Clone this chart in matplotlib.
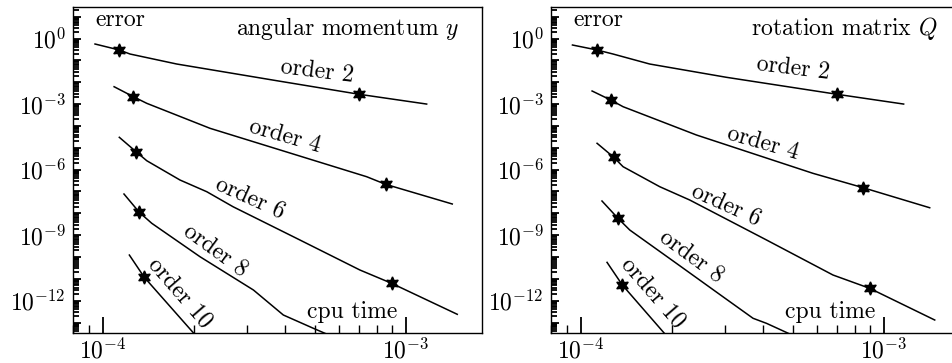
import math
import matplotlib
matplotlib.use("Agg")
import matplotlib.pyplot as plt
from matplotlib.ticker import FixedLocator, FuncFormatter, LogLocator, NullFormatter

plt.rcParams["font.family"] = "serif"
plt.rcParams["font.serif"] = ["cmr10"]
plt.rcParams["mathtext.fontset"] = "cm"
plt.rcParams["axes.formatter.use_mathtext"] = True

# ---- data: cpu time (s) vs error ----
orders = [2, 4, 6, 8, 10]

# angular momentum y
y_t2 = [9.43e-5, 1.134e-4, 1.23e-4, 1.754e-4, 3.75e-4, 7.01e-4, 1.17e-3]
y_e2 = [0.56, 0.298, 0.195, 6.8e-2, 1.17e-2, 2.8e-3, 1.0e-3]
y_t4 = [1.09e-4, 1.262e-4, 1.397e-4, 2.258e-4, 7.42e-4, 8.57e-4, 1.421e-3]
y_e4 = [6.22e-3, 2.17e-3, 1.08e-3, 7.77e-5, 4.73e-7, 2.12e-7, 2.67e-8]
y_t6 = [1.134e-4, 1.288e-4, 1.397e-4, 1.798e-4, 2.203e-4, 2.69e-4, 4.47e-4, 7.05e-4, 8.97e-4, 1.476e-3]
y_e6 = [3.01e-5, 6.59e-6, 2.55e-6, 3.34e-7, 9.74e-8, 2.0e-8, 6.0e-10, 2.54e-11, 6.25e-12, 2.39e-13]
y_t8 = [1.175e-4, 1.32e-4, 1.451e-4, 2.093e-4, 3.14e-4, 3.94e-4, 4.95e-4, 6.29e-4]
y_e8 = [7.64e-8, 1.11e-8, 3.49e-9, 1.03e-10, 3.09e-12, 2.22e-13, 5.46e-14, 1.3e-14]
y_t10 = [1.224e-4, 1.371e-4, 2.175e-4]
y_e10 = [1.23e-10, 1.18e-11, 8.4e-15]
y_stars = [[1, 5], [1, 5], [1, 8], [1], [1]]

# rotation matrix Q
q_t2 = [9.39e-5, 1.132e-4, 1.278e-4, 1.688e-4, 3.02e-4, 7.0e-4, 1.161e-3]
q_e2 = [0.504, 0.298, 0.195, 6.8e-2, 1.68e-2, 2.8e-3, 1.0e-3]
q_t4 = [1.09e-4, 1.256e-4, 1.379e-4, 2.407e-4, 5.83e-4, 8.53e-4, 1.415e-3]
q_e4 = [3.96e-3, 1.53e-3, 7.57e-4, 3.84e-5, 6.77e-7, 1.49e-7, 1.8e-8]
q_t6 = [1.132e-4, 1.285e-4, 1.379e-4, 1.822e-4, 2.288e-4, 4.1e-4, 6.79e-4, 8.97e-4, 1.47e-3]
q_e6 = [1.6e-5, 3.66e-6, 1.36e-6, 1.65e-7, 4.06e-8, 6.0e-10, 1.5e-11, 3.7e-12, 1.31e-13]
q_t8 = [1.175e-4, 1.327e-4, 1.451e-4, 2.067e-4, 2.944e-4, 3.7e-4, 4.1e-4, 5.69e-4]
q_e8 = [3.66e-8, 5.9e-9, 1.72e-9, 5.15e-11, 1.52e-12, 1.57e-13, 9.2e-14, 1.15e-14]
q_t10 = [1.221e-4, 1.372e-4, 2.04e-4]
q_e10 = [5.7e-11, 5.2e-12, 9.3e-15]
q_stars = [[1, 5], [1, 5], [1, 7], [1], [1]]

# curve labels: position (time, error) and rotation
y_lab_t = [5.08e-4, 3.99e-4, 3.06e-4, 2.35e-4, 1.8e-4]
y_lab_e = [3.03e-2, 3.2e-5, 4.86e-8, 2.09e-10, 2.18e-12]
q_lab_t = [5.01e-4, 3.98e-4, 3.02e-4, 2.32e-4, 1.73e-4]
q_lab_e = [4.33e-2, 1.6e-5, 2.4e-8, 1.03e-10, 2.18e-12]
lab_rot = [-7, -16, -24, -36, -49]

panels = [
    ("angular momentum $y$", [y_t2, y_t4, y_t6, y_t8, y_t10],
     [y_e2, y_e4, y_e6, y_e8, y_e10], y_stars, y_lab_t, y_lab_e),
    ("rotation matrix $Q$", [q_t2, q_t4, q_t6, q_t8, q_t10],
     [q_e2, q_e4, q_e6, q_e8, q_e10], q_stars, q_lab_t, q_lab_e),
]

FS = 17
W, H = 953, 363
fig = plt.figure(figsize=(W / 100, H / 100), dpi=100)
lefts = [72.7, 550.7]


def pow_label(v, pos):
    return r"$10^{%d}$" % round(math.log10(v))


def ylabel_fmt(v, pos):
    e = int(round(math.log10(v)))
    return r"$10^{%d}$" % e if e % 3 == 0 else ""


for left, (title, ts, es, stars, lt, le) in zip(lefts, panels):
    ax = fig.add_axes([left / W, 1 - 332.7 / H, 409 / W, 325.4 / H])
    for t, e, st in zip(ts, es, stars):
        ax.plot(t, e, color="black", lw=1.1, marker=(6, 1, 0), ms=9.5,
                markevery=st, mfc="black", mec="black")
    for o, x, y, r in zip(orders, lt, le, lab_rot):
        ax.text(x, y, "order %d" % o, fontsize=FS, rotation=r,
                rotation_mode="anchor", ha="center", va="center")
    ax.set_xscale("log")
    ax.set_yscale("log")
    ax.set_xlim(7.96e-5, 1.777e-3)
    ax.set_ylim(3.44e-14, 26.8)

    ax.yaxis.set_major_locator(FixedLocator([10.0 ** k for k in range(-13, 2)]))
    ax.yaxis.set_major_formatter(FuncFormatter(ylabel_fmt))
    ax.yaxis.set_minor_locator(LogLocator(base=10, subs=range(2, 10), numticks=40))
    ax.yaxis.set_minor_formatter(NullFormatter())
    ax.xaxis.set_major_locator(FixedLocator([1e-4, 1e-3]))
    ax.xaxis.set_major_formatter(FuncFormatter(pow_label))
    ax.xaxis.set_minor_locator(LogLocator(base=10, subs=range(2, 10), numticks=20))
    ax.xaxis.set_minor_formatter(NullFormatter())

    ax.tick_params(which="both", direction="in", top=False, right=False,
                   labelsize=FS, width=1.3)
    ax.tick_params(axis="y", which="major", length=6, pad=5)
    ax.tick_params(axis="y", which="minor", length=4)
    ax.tick_params(axis="x", which="major", length=11.5, pad=4)
    ax.tick_params(axis="x", which="minor", length=5.8, width=1.0)
    for s in ax.spines.values():
        s.set_linewidth(1.0)

    ax.text(0.0545, 0.9426, "error", transform=ax.transAxes, fontsize=FS,
            ha="left", va="baseline")
    ax.text(0.945, 0.915, title, transform=ax.transAxes, fontsize=FS,
            ha="right", va="baseline")
    ax.text(0.793, 0.046, "cpu time", transform=ax.transAxes, fontsize=FS,
            ha="right", va="baseline")

fig.savefig("out.png", dpi=100)
